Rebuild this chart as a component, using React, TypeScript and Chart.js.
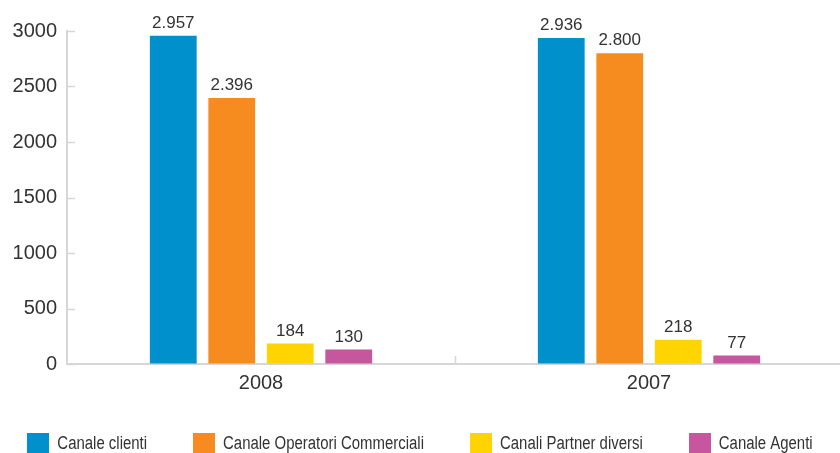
import React, { useEffect, useRef } from "react";
import { Chart, registerables } from "chart.js";

Chart.register(...registerables);

const categories = ["2008", "2007"];
const seriesNames = [
  "Canale clienti",
  "Canale Operatori Commerciali",
  "Canali Partner diversi",
  "Canale Agenti",
];
const canaleClienti = [2957, 2936];
const canaleOperatori = [2396, 2800];
const canaliPartner = [184, 218];
const canaleAgenti = [130, 77];
const seriesColors = ["#0091cd", "#f68b1f", "#ffd400", "#c6579e"];
const yTicks = [0, 500, 1000, 1500, 2000, 2500, 3000];

const AXIS_COLOR = "#d6d6d6";
const TEXT_COLOR = "#333333";

function formatIt(v: number): string {
  const s = String(Math.round(v));
  return s.replace(/\B(?=(\d{3})+(?!\d))/g, ".");
}

const innerTicksPlugin = {
  id: "innerTicks",
  afterDraw(chart: any) {
    const ctx = chart.ctx;
    const area = chart.chartArea;
    const y = chart.scales.y;
    const x = chart.scales.x;
    ctx.save();
    ctx.strokeStyle = AXIS_COLOR;
    ctx.lineWidth = 1.5;
    yTicks.forEach((t) => {
      const py = Math.round(y.getPixelForValue(t)) + 0.5;
      ctx.beginPath();
      ctx.moveTo(area.left, py);
      ctx.lineTo(area.left + 8, py);
      ctx.stroke();
    });
    for (let i = 0; i < categories.length - 1; i++) {
      const px = Math.round((x.getPixelForValue(i) + x.getPixelForValue(i + 1)) / 2) + 0.5;
      ctx.beginPath();
      ctx.moveTo(px, area.bottom);
      ctx.lineTo(px, area.bottom - 8);
      ctx.stroke();
    }
    ctx.restore();
  },
};

const valueLabelsPlugin = {
  id: "valueLabels",
  afterDatasetsDraw(chart: any) {
    const ctx = chart.ctx;
    ctx.save();
    ctx.font = "17px 'Liberation Sans', Arial, sans-serif";
    ctx.fillStyle = TEXT_COLOR;
    ctx.textAlign = "center";
    ctx.textBaseline = "bottom";
    chart.data.datasets.forEach((ds: any, di: number) => {
      const meta = chart.getDatasetMeta(di);
      meta.data.forEach((bar: any, i: number) => {
        ctx.fillText(formatIt(ds.data[i]), bar.x, bar.y - 4);
      });
    });
    ctx.restore();
  },
};

const customLegendPlugin = {
  id: "customLegend",
  afterDraw(chart: any) {
    const ctx = chart.ctx;
    const boxW = 22;
    const boxH = 20;
    const textGap = 8;
    const itemGap = 46;
    const squeeze = 0.83;
    ctx.save();
    ctx.font = "18px 'Liberation Sans', Arial, sans-serif";
    const items = chart.data.datasets.map((ds: any) => {
      const tw = ctx.measureText(ds.label).width * squeeze;
      return { label: ds.label, color: ds.backgroundColor, tw, w: boxW + textGap + tw };
    });
    const total = items.reduce((a: number, it: any) => a + it.w, 0) + itemGap * (items.length - 1);
    let x = (840 - total) / 2;
    const top = 433;
    items.forEach((it: any) => {
      ctx.fillStyle = it.color;
      ctx.fillRect(Math.round(x), top, boxW, boxH);
      ctx.save();
      ctx.translate(x + boxW + textGap, top + boxH / 2 + 1);
      ctx.scale(squeeze, 1);
      ctx.fillStyle = TEXT_COLOR;
      ctx.textAlign = "left";
      ctx.textBaseline = "middle";
      ctx.fillText(it.label, 0, 0);
      ctx.restore();
      x += it.w + itemGap;
    });
    ctx.restore();
  },
};

export default function App() {
  const canvasRef = useRef<HTMLCanvasElement | null>(null);

  useEffect(() => {
    if (!canvasRef.current) return;
    const seriesData = [canaleClienti, canaleOperatori, canaliPartner, canaleAgenti];
    const chart = new Chart(canvasRef.current, {
      type: "bar",
      data: {
        labels: categories,
        datasets: seriesNames.map((name, i) => ({
          label: name,
          data: seriesData[i],
          backgroundColor: seriesColors[i],
          borderWidth: 0,
          categoryPercentage: 0.603,
          barPercentage: 0.8,
        })),
      },
      options: {
        responsive: false,
        animation: false,
        layout: { padding: { top: 31, right: 1, bottom: 53, left: 0 } },
        plugins: {
          legend: { display: false },
          tooltip: { enabled: false },
          title: { display: false },
        },
        scales: {
          x: {
            grid: { display: true, drawOnChartArea: false, drawTicks: false },
            border: { display: true, color: AXIS_COLOR, width: 2 },
            ticks: {
              color: TEXT_COLOR,
              font: { family: "'Liberation Sans', Arial, sans-serif", size: 20 },
              padding: 7,
            },
            afterFit: (scale: any) => {
              scale.height = 36;
            },
          },
          y: {
            min: 0,
            max: 3000,
            grid: { display: true, drawOnChartArea: false, drawTicks: false },
            border: { display: true, color: AXIS_COLOR, width: 2 },
            afterBuildTicks: (scale: any) => {
              scale.ticks = yTicks.map((v) => ({ value: v }));
            },
            ticks: {
              color: TEXT_COLOR,
              font: { family: "'Liberation Sans', Arial, sans-serif", size: 20 },
              padding: 10,
              callback: (v: any) => String(v),
            },
            afterFit: (scale: any) => {
              scale.width = 67;
            },
          },
        },
      },
      plugins: [innerTicksPlugin, valueLabelsPlugin, customLegendPlugin],
    });
    return () => chart.destroy();
  }, []);

  return (
    <div
      style={{
        position: "fixed",
        left: 0,
        top: 0,
        width: 840,
        height: 453,
        overflow: "hidden",
        background: "#ffffff",
      }}
    >
      <canvas ref={canvasRef} width={844} height={453} style={{ width: 844, height: 453, display: "block" }} />
    </div>
  );
}
